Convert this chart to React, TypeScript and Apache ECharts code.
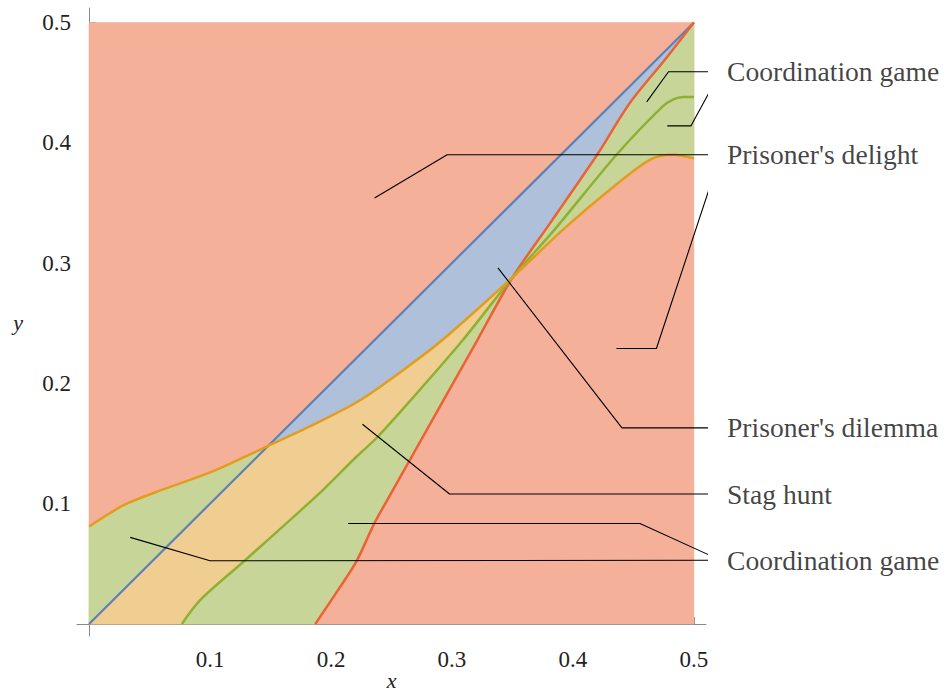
import React, { useEffect, useRef } from 'react';
import * as echarts from 'echarts';

// ---- data ----
const X_MIN = 0;
const X_MAX = 0.5;
const Y_MIN = 0;
const Y_MAX = 0.5;
const TRIPLE_X = 0.35;

const diagX = [0, 0.5];
const diagY = [0, 0.5];

const orangeX = [0, 0.017, 0.031, 0.059, 0.1, 0.133, 0.15, 0.188, 0.224, 0.265, 0.292, 0.35, 0.392, 0.433, 0.464, 0.483, 0.5];
const orangeY = [0.081, 0.092, 0.1, 0.111, 0.126, 0.141, 0.149, 0.167, 0.186, 0.215, 0.236, 0.288, 0.328, 0.363, 0.386, 0.39, 0.387];

const greenX = [0.0767, 0.092, 0.129, 0.169, 0.193, 0.221, 0.238, 0.265, 0.309, 0.35, 0.385, 0.436, 0.474, 0.483, 0.491, 0.5];
const greenY = [0, 0.02, 0.053, 0.089, 0.111, 0.139, 0.155, 0.185, 0.236, 0.288, 0.328, 0.39, 0.43, 0.436, 0.438, 0.438];

const redX = [0.187, 0.207, 0.221, 0.236, 0.251, 0.265, 0.321, 0.35, 0.381, 0.42, 0.447, 0.476, 0.5];
const redY = [0, 0.03, 0.052, 0.084, 0.111, 0.136, 0.236, 0.288, 0.333, 0.39, 0.433, 0.469, 0.5];

const xMajorTicks = [0, 0.1, 0.2, 0.3, 0.4, 0.5];
const xTickLabels = [0.1, 0.2, 0.3, 0.4, 0.5];
const xMinorTicks = [0.02, 0.04, 0.06, 0.08, 0.12, 0.14, 0.16, 0.18, 0.22, 0.24, 0.26, 0.28, 0.32, 0.34, 0.36, 0.38, 0.42, 0.44, 0.46, 0.48];
const yMajorTicks = [0, 0.1, 0.2, 0.3, 0.4, 0.5];
const yTickLabels = [0.1, 0.2, 0.3, 0.4, 0.5];
const yMinorTicks = [0.02, 0.04, 0.06, 0.08, 0.12, 0.14, 0.16, 0.18, 0.22, 0.24, 0.26, 0.28, 0.32, 0.34, 0.36, 0.38, 0.42, 0.44, 0.46, 0.48];

// leader lines (data coordinates)
const coordTopA = [[0.461, 0.434], [0.479, 0.459], [0.522, 0.459]];
const coordTopB = [[0.478, 0.414], [0.4975, 0.414], [0.522, 0.459]];
const delightA = [[0.236, 0.354], [0.296, 0.39], [0.522, 0.39]];
const delightB = [[0.436, 0.229], [0.469, 0.229], [0.522, 0.39]];
const dilemmaL = [[0.338, 0.296], [0.4405, 0.163], [0.522, 0.163]];
const stagL = [[0.226, 0.166], [0.298, 0.108], [0.522, 0.108]];
const coordBotA = [[0.214, 0.0835], [0.4554, 0.0835], [0.522, 0.053]];
const coordBotB = [[0.034, 0.072], [0.1, 0.0525], [0.522, 0.053]];

const labelNames = ['Coordination game', "Prisoner's delight", "Prisoner's dilemma", 'Stag hunt', 'Coordination game'];
const labelX = [0.522, 0.522, 0.522, 0.522, 0.522];
const labelY = [0.459, 0.39, 0.163, 0.108, 0.053];

// ---- colors ----
const C_BLUE = '#5E81B5';
const C_ORANGE = '#E39C1E';
const C_GREEN = '#8FB032';
const C_RED = '#EB6235';
const F_BLUE = '#AEC0DA';
const F_ORANGE = '#F0CD91';
const F_GREEN = '#C7D698';
const F_RED = '#F5B09A';

const SERIF = "Liberation Serif";

type P = number[];
const zip = (xs: number[], ys: number[]): P[] => xs.map((x, i) => [x, ys[i]]);

function diagCross(c: P[]): P {
  for (let i = 0; i < c.length - 1; i++) {
    const d0 = c[i][1] - c[i][0];
    const d1 = c[i + 1][1] - c[i + 1][0];
    if (d0 >= 0 && d1 < 0) {
      const t = d0 / (d0 - d1);
      const x = c[i][0] + t * (c[i + 1][0] - c[i][0]);
      return [x, x];
    }
  }
  return c[c.length - 1];
}

function polySeries(points: P[], color: string) {
  return {
    type: 'custom',
    silent: true,
    clip: false,
    data: [[points[0][0], points[0][1]]],
    renderItem: (_params: any, api: any) => ({
      type: 'polygon',
      shape: { points: points.map((p) => api.coord(p)) },
      style: { fill: color, stroke: color, lineWidth: 0.6 },
    }),
  };
}

function lineSeries(points: P[], color: string, width: number, smooth: number) {
  return {
    type: 'line',
    data: points,
    showSymbol: false,
    symbol: 'none',
    silent: true,
    clip: false,
    smooth,
    lineStyle: { color, width },
    z: 3,
  };
}

function leaderSeries(points: P[]) {
  return {
    type: 'line',
    data: points,
    showSymbol: false,
    symbol: 'none',
    silent: true,
    clip: false,
    lineStyle: { color: '#000', width: 1.1 },
    z: 4,
  };
}

export default function App() {
  const ref = useRef<HTMLDivElement>(null);

  useEffect(() => {
    document.body.style.margin = '0';
    if (!ref.current) return;
    const chart = echarts.init(ref.current, undefined, { renderer: 'svg' });

    const orange = zip(orangeX, orangeY);
    const green = zip(greenX, greenY);
    const red = zip(redX, redY);
    const diag = zip(diagX, diagY);
    const P0 = diagCross(orange);

    const orangeBeforeC = [...orange.filter((p) => p[0] < P0[0]), P0];
    const orangeMid = [P0, ...orange.filter((p) => p[0] > P0[0] && p[0] <= TRIPLE_X)];
    const orangeAfterT = orange.filter((p) => p[0] >= TRIPLE_X);
    const greenBeforeT = green.filter((p) => p[0] <= TRIPLE_X);
    const redBeforeT = red.filter((p) => p[0] <= TRIPLE_X);
    const redAfterT = red.filter((p) => p[0] >= TRIPLE_X);

    const bg: P[] = [[X_MIN, Y_MIN], [X_MAX, Y_MIN], [X_MAX, Y_MAX], [X_MIN, Y_MAX]];
    const bluePoly: P[] = [P0, diag[1], ...[...redAfterT].reverse(), ...[...orangeMid].reverse()];
    const orangePoly: P[] = [diag[0], ...orangeMid, ...[...greenBeforeT].reverse()];
    const greenLL: P[] = [diag[0], ...orangeBeforeC];
    const greenMid: P[] = [...greenBeforeT, ...[...redBeforeT].reverse()];
    const greenUR: P[] = [...redAfterT, ...[...orangeAfterT].reverse()];

    const labelData = labelNames.map((n, i) => ({ name: n, value: [labelX[i], labelY[i]] }));

    const commonX = {
      type: 'value',
      min: -0.01,
      max: 0.51,
      position: 'bottom',
      splitLine: { show: false },
    };
    const commonY = {
      type: 'value',
      min: -0.01,
      max: 0.512,
      position: 'left',
      splitLine: { show: false },
    };
    const axisGrey = '#8a8a8a';

    chart.setOption({
      animation: false,
      textStyle: { fontFamily: SERIF },
      grid: { left: 77, right: 240, top: 8, bottom: 58, containLabel: false, outerBoundsMode: 'none' },
      xAxis: [
        {
          ...commonX,
          name: 'x',
          nameLocation: 'middle',
          nameGap: 33,
          nameMoveOverlap: false,
          nameTextStyle: { fontFamily: SERIF, fontStyle: 'italic', fontSize: 22, lineHeight: 22, color: '#222' },
          axisLine: { show: true, lineStyle: { color: axisGrey, width: 1 } },
          axisTick: { show: true, inside: true, length: 7, customValues: xMajorTicks, lineStyle: { color: axisGrey } },
          axisLabel: {
            show: true,
            customValues: xTickLabels,
            margin: 12,
            fontFamily: SERIF,
            fontSize: 23,
            color: '#222',
            formatter: (v: number) => v.toFixed(1),
          },
        },
        {
          ...commonX,
          axisLine: { show: false },
          axisTick: { show: true, inside: true, length: 4, customValues: xMinorTicks, lineStyle: { color: axisGrey } },
          axisLabel: { show: false },
        },
      ],
      yAxis: [
        {
          ...commonY,
          name: 'y',
          nameLocation: 'middle',
          nameRotate: 0,
          nameGap: 54,
          nameMoveOverlap: false,
          nameTextStyle: { fontFamily: SERIF, fontStyle: 'italic', fontSize: 22, color: '#222', padding: [0, 0, 18, 0] },
          axisLine: { show: true, lineStyle: { color: axisGrey, width: 1 } },
          axisTick: { show: true, inside: true, length: 7, customValues: yMajorTicks, lineStyle: { color: axisGrey } },
          axisLabel: {
            show: true,
            customValues: yTickLabels,
            margin: 6,
            fontFamily: SERIF,
            fontSize: 23,
            color: '#222',
            formatter: (v: number) => v.toFixed(1),
          },
        },
        {
          ...commonY,
          axisLine: { show: false },
          axisTick: { show: true, inside: true, length: 4, customValues: yMinorTicks, lineStyle: { color: axisGrey } },
          axisLabel: { show: false },
        },
      ],
      series: [
        polySeries(bg, F_RED),
        polySeries(bluePoly, F_BLUE),
        polySeries(orangePoly, F_ORANGE),
        polySeries(greenLL, F_GREEN),
        polySeries(greenMid, F_GREEN),
        polySeries(greenUR, F_GREEN),
        lineSeries(diag, C_BLUE, 2.2, 0),
        lineSeries(red, C_RED, 2.5, 0.3),
        lineSeries(green, C_GREEN, 2.5, 0.3),
        lineSeries(orange, C_ORANGE, 2.5, 0.3),
        leaderSeries(coordTopA),
        leaderSeries(coordTopB),
        leaderSeries(delightA),
        leaderSeries(delightB),
        leaderSeries(dilemmaL),
        leaderSeries(stagL),
        leaderSeries(coordBotA),
        leaderSeries(coordBotB),
        {
          type: 'scatter',
          data: labelData,
          symbolSize: 1,
          clip: false,
          silent: true,
          itemStyle: { color: 'rgba(0,0,0,0)' },
          z: 5,
          label: {
            show: true,
            position: 'right',
            distance: 6,
            formatter: (p: any) => p.name,
            fontFamily: SERIF,
            fontSize: 27.6,
            color: '#111',
          },
        },
      ],
    });

    return () => chart.dispose();
  }, []);

  return <div ref={ref} style={{ width: 946, height: 694 }} />;
}
